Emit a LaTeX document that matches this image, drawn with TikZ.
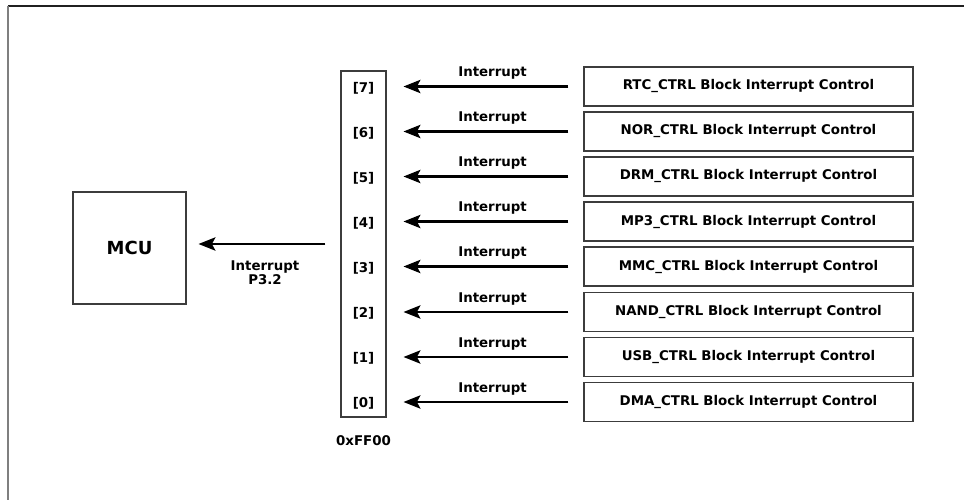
\documentclass[tikz,border=0pt]{standalone}
\usepackage{fontspec}
\setmainfont{DejaVu Sans}
\usetikzlibrary{arrows.meta}
\definecolor{rgframe}{RGB}{32,32,32}
\definecolor{rgside}{RGB}{127,127,127}
\definecolor{rgedge}{RGB}{60,60,60}

\tikzset{
  ctrlbox/.style={draw=rgedge, line width=0.8pt, minimum width=8.225cm, minimum height=0.975cm, inner sep=0pt},
  intarrow/.style={-{Stealth[length=12pt, width=9.5pt, inset=2.5pt]}, line width=1.6pt},
  intlabel/.style={above=1pt, pos=0.46}
}

\begin{document}
\begin{tikzpicture}[font=\bfseries\fontsize{9.5pt}{10.2pt}\selectfont]
\useasboundingbox (0,0) rectangle (24.1,-12.5);

% Frame
\draw[rgframe, line width=1.4pt] (0.2,-0.16) -- (24.1,-0.16);
\draw[rgside, line width=1.4pt] (0.2,-0.16) -- (0.2,-12.5);

% MCU
\node[draw=rgedge, line width=0.8pt, minimum width=2.825cm, minimum height=2.8cm, inner sep=0pt,
      font=\bfseries\fontsize{12.8pt}{14pt}\selectfont] (mcu) at (3.2375, -6.2) {MCU};

% Interrupt register 0xFF00
\node[draw=rgedge, line width=0.8pt, minimum width=1.125cm, minimum height=8.65cm, inner sep=0pt] (reg) at (9.0875, -6.1) {};
\node (bit7) at (9.0875, -2.2) {[7]};
\node (bit6) at (9.0875, -3.325) {[6]};
\node (bit5) at (9.0875, -4.45) {[5]};
\node (bit4) at (9.0875, -5.575) {[4]};
\node (bit3) at (9.0875, -6.7) {[3]};
\node (bit2) at (9.0875, -7.84) {[2]};
\node (bit1) at (9.0875, -8.965) {[1]};
\node (bit0) at (9.0875, -10.09) {[0]};
\node (addr) at (9.0875, -11.025) {0xFF00};

% Block interrupt controls
\node[ctrlbox] (rtc) at (18.7125, -2.1625) {RTC\_CTRL Block Interrupt Control};
\node[ctrlbox] (nor) at (18.7125, -3.2875) {NOR\_CTRL Block Interrupt Control};
\node[ctrlbox] (drm) at (18.7125, -4.4125) {DRM\_CTRL Block Interrupt Control};
\node[ctrlbox] (mp3) at (18.7125, -5.5375) {MP3\_CTRL Block Interrupt Control};
\node[ctrlbox] (mmc) at (18.7125, -6.6625) {MMC\_CTRL Block Interrupt Control};
\node[ctrlbox] (nand) at (18.7125, -7.8) {NAND\_CTRL Block Interrupt Control};
\node[ctrlbox] (usb) at (18.7125, -8.925) {USB\_CTRL Block Interrupt Control};
\node[ctrlbox] (dma) at (18.7125, -10.05) {DMA\_CTRL Block Interrupt Control};

% Arrows into the register
\draw[intarrow] ([xshift=-0.375cm]rtc.west) -- ([xshift=0.425cm]reg.east |- rtc.west) node[intlabel] {Interrupt};
\draw[intarrow] ([xshift=-0.375cm]nor.west) -- ([xshift=0.425cm]reg.east |- nor.west) node[intlabel] {Interrupt};
\draw[intarrow] ([xshift=-0.375cm]drm.west) -- ([xshift=0.425cm]reg.east |- drm.west) node[intlabel] {Interrupt};
\draw[intarrow] ([xshift=-0.375cm]mp3.west) -- ([xshift=0.425cm]reg.east |- mp3.west) node[intlabel] {Interrupt};
\draw[intarrow] ([xshift=-0.375cm]mmc.west) -- ([xshift=0.425cm]reg.east |- mmc.west) node[intlabel] {Interrupt};
\draw[intarrow] ([xshift=-0.375cm]nand.west) -- ([xshift=0.425cm]reg.east |- nand.west) node[intlabel] {Interrupt};
\draw[intarrow] ([xshift=-0.375cm]usb.west) -- ([xshift=0.425cm]reg.east |- usb.west) node[intlabel] {Interrupt};
\draw[intarrow] ([xshift=-0.375cm]dma.west) -- ([xshift=0.425cm]reg.east |- dma.west) node[intlabel] {Interrupt};

% Arrow to the MCU
\draw[intarrow] ([xshift=-0.375cm]reg.west) -- ([xshift=0.3cm]mcu.east |- reg.west);
\node[align=center] (p32) at (6.625, -6.82) {Interrupt\\P3.2};
\end{tikzpicture}
\end{document}
